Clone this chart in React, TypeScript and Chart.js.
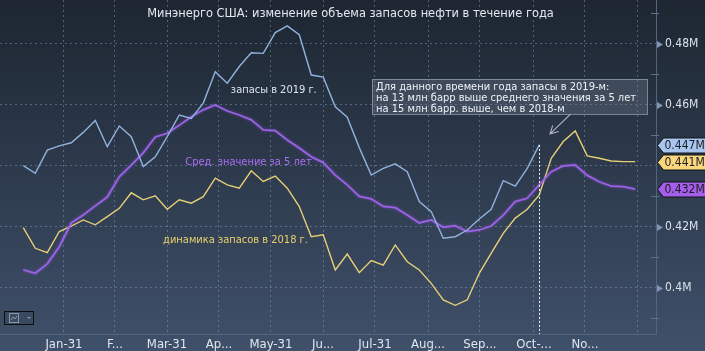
import React, { useEffect, useRef } from "react";
import { Chart, registerables } from "chart.js";

Chart.register(...registerables);

// Weekly stocks (as displayed, "M" units), week index 0 = first week of January
const STOCKS_2019 = [
  0.4401, 0.4376, 0.4452, 0.4466, 0.4476, 0.451, 0.4549, 0.4463, 0.4531, 0.4496,
  0.4398, 0.443, 0.4496, 0.4567, 0.4556, 0.4606, 0.4709, 0.4671, 0.4726, 0.4771,
  0.4769, 0.4837, 0.4859, 0.483, 0.4698, 0.4691, 0.4594, 0.456, 0.446, 0.437,
  0.4392, 0.4407, 0.4381, 0.4283, 0.425, 0.4163, 0.4168, 0.419, 0.4226, 0.4258,
  0.4352, 0.4334, 0.4392, 0.4469,
];

const AVG_5Y = [
  0.4059, 0.4048, 0.4079, 0.4135, 0.4213, 0.4239, 0.4269, 0.4298, 0.4364, 0.4403,
  0.4443, 0.4495, 0.4507, 0.4533, 0.4561, 0.4584, 0.46, 0.458, 0.4567, 0.4551,
  0.4518, 0.4516, 0.4485, 0.4459, 0.443, 0.4411, 0.437, 0.4338, 0.43, 0.4292,
  0.4267, 0.4263, 0.4239, 0.4213, 0.4223, 0.4199, 0.4204, 0.4185, 0.419, 0.4203,
  0.4239, 0.4283, 0.4294, 0.4338, 0.4381, 0.44, 0.4403, 0.4369, 0.4348, 0.4334,
  0.4332, 0.4324,
];

const STOCKS_2018 = [
  0.4198, 0.413, 0.4116, 0.4185, 0.4203, 0.4223, 0.4207, 0.4234, 0.4261, 0.4312,
  0.4289, 0.4302, 0.4258, 0.4289, 0.4278, 0.4299, 0.436, 0.4338, 0.4327, 0.4384,
  0.4349, 0.4367, 0.4327, 0.4267, 0.4168, 0.4174, 0.4059, 0.4111, 0.405, 0.409,
  0.4075, 0.4141, 0.4086, 0.4059, 0.4015, 0.3961, 0.3943, 0.3961, 0.4048, 0.4114,
  0.4179, 0.4229, 0.4258, 0.4305, 0.4425, 0.448, 0.4515, 0.4433, 0.4425, 0.4416,
  0.4414, 0.4414,
];

// X axis ticks (in week-index units) and their labels
const X_TICKS = [3.39, 7.64, 11.98, 16.31, 20.64, 24.98, 29.31, 33.73, 38.06, 42.56, 46.81, 51.22];
const X_TICK_LABELS = ["Jan-31", "F...", "Mar-31", "Ap...", "May-31", "Ju...", "Jul-31", "Aug...", "Sep...", "Oct-...", "No...", ""];

const Y_TICKS = [0.39, 0.4, 0.41, 0.42, 0.43, 0.44, 0.45, 0.46, 0.47, 0.48, 0.49];
const Y_GRID = [0.4, 0.42, 0.44, 0.46, 0.48];
const Y_LABELED = [0.4, 0.42, 0.46, 0.48];
const Y_LABEL_TEXT = ["0.4M", "0.42M", "0.46M", "0.48M"];

const TITLE = "Минэнерго США: изменение объема запасов нефти в течение года";
const LABEL_2019 = "запасы в 2019 г.";
const LABEL_AVG = "Сред. значение за 5 лет";
const LABEL_2018 = "динамика запасов в 2018 г.";
const NOTE_LINES = [
  "Для данного времени года запасы в 2019-м:",
  "на 13 млн барр выше среднего значения за 5 лет",
  "на 15 млн барр. выше, чем в 2018-м",
];

const FONT = '"DejaVu Sans Condensed", "DejaVu Sans", sans-serif';

const C2019 = "#90b2dc";
const CAVG = "#9b62e6";
const C2018 = "#e6d077";

const near = (a: number, b: number) => Math.abs(a - b) < 1e-6;

const decor = {
  id: "decor",
  beforeDraw(chart: any) {
    const { ctx, width, height } = chart;
    const g = ctx.createLinearGradient(0, 0, 0, height);
    g.addColorStop(0, "#1d2631");
    g.addColorStop(1, "#3f506a");
    ctx.save();
    ctx.fillStyle = g;
    ctx.fillRect(0, 0, width, height);
    ctx.restore();
  },
  beforeDatasetDraw(chart: any, args: any) {
    if (args.index === 1) {
      chart.ctx.save();
      chart.ctx.shadowColor = "rgba(150,90,235,0.6)";
      chart.ctx.shadowBlur = 3;
    }
  },
  afterDatasetDraw(chart: any, args: any) {
    if (args.index === 1) chart.ctx.restore();
  },
  afterDatasetsDraw(chart: any) {
    const { ctx } = chart;
    const xs = chart.scales.x;
    const ys = chart.scales.y;
    const area = chart.chartArea;
    ctx.save();

    // dotted line from last 2019 point to axis
    const li = STOCKS_2019.length - 1;
    const lx = Math.round(xs.getPixelForValue(li)) + 0.5;
    ctx.strokeStyle = "#f2f4f8";
    ctx.lineWidth = 1;
    ctx.setLineDash([2, 2]);
    ctx.beginPath();
    ctx.moveTo(lx, ys.getPixelForValue(STOCKS_2019[li]));
    ctx.lineTo(lx, area.bottom);
    ctx.stroke();
    ctx.setLineDash([]);

    // series labels
    ctx.font = `11px ${FONT}`;
    ctx.textBaseline = "middle";
    ctx.textAlign = "left";
    ctx.fillStyle = "#dbe4f3";
    ctx.fillText(LABEL_2019, xs.getPixelForValue(17.3), ys.getPixelForValue(0.4649));
    ctx.fillStyle = "#ad6cf5";
    ctx.fillText(LABEL_AVG, xs.getPixelForValue(13.5), ys.getPixelForValue(0.4413));
    ctx.fillStyle = "#e6d06c";
    ctx.fillText(LABEL_2018, xs.getPixelForValue(11.65), ys.getPixelForValue(0.4157));

    // note box
    const bx0 = xs.getPixelForValue(29.06);
    const bx1 = xs.getPixelForValue(51.98);
    const by0 = ys.getPixelForValue(0.46852);
    const by1 = ys.getPixelForValue(0.45705);
    ctx.fillStyle = "rgba(112,124,142,0.35)";
    ctx.fillRect(Math.round(bx0), Math.round(by0), Math.round(bx1 - bx0), Math.round(by1 - by0));
    ctx.strokeStyle = "rgba(150,160,176,0.75)";
    ctx.strokeRect(Math.round(bx0) + 0.5, Math.round(by0) + 0.5, Math.round(bx1 - bx0), Math.round(by1 - by0));
    ctx.fillStyle = "#eef2f8";
    ctx.font = `11px ${FONT}`;
    NOTE_LINES.forEach((t, k) => {
      ctx.fillText(t, bx0 + 4, by0 + 8.5 + k * 11);
    });

    // arrow
    const ax0 = xs.getPixelForValue(45.6);
    const ay0 = ys.getPixelForValue(0.457);
    const ax1 = xs.getPixelForValue(43.9);
    const ay1 = ys.getPixelForValue(0.4505);
    ctx.strokeStyle = "#a9b1c2";
    ctx.lineWidth = 1.2;
    ctx.beginPath();
    ctx.moveTo(ax0, ay0);
    ctx.lineTo(ax1, ay1);
    const ang = Math.atan2(ay0 - ay1, ax0 - ax1);
    const hl = 9;
    ctx.moveTo(ax1 + hl * Math.cos(ang - 0.5), ay1 + hl * Math.sin(ang - 0.5));
    ctx.lineTo(ax1, ay1);
    ctx.lineTo(ax1 + hl * Math.cos(ang + 0.5), ay1 + hl * Math.sin(ang + 0.5));
    ctx.stroke();
    ctx.restore();
  },
  afterDraw(chart: any) {
    const { ctx, width } = chart;
    const ys = chart.scales.y;
    const area = chart.chartArea;
    ctx.save();

    // title
    ctx.font = `12.7px ${FONT}`;
    ctx.fillStyle = "#e3e8f0";
    ctx.textAlign = "center";
    ctx.textBaseline = "middle";
    ctx.fillText(TITLE, width / 2 - 2, 14);

    // y axis pointers and minor ticks
    Y_TICKS.forEach((v) => {
      const y = Math.round(ys.getPixelForValue(v)) + 0.5;
      if (Y_LABELED.some((l) => near(l, v))) {
        ctx.fillStyle = "#8397b4";
        ctx.beginPath();
        ctx.moveTo(area.right + 1, y - 3.5);
        ctx.lineTo(area.right + 7, y);
        ctx.lineTo(area.right + 1, y + 3.5);
        ctx.closePath();
        ctx.fill();
      } else if (!Y_GRID.some((l) => near(l, v))) {
        ctx.strokeStyle = "#5d7090";
        ctx.lineWidth = 1;
        ctx.beginPath();
        ctx.moveTo(area.right - 5, y);
        ctx.lineTo(area.right + 3, y);
        ctx.stroke();
      }
    });

    // last value badges
    const badges = [
      { v: STOCKS_2019[STOCKS_2019.length - 1], fill: "#a9c6ef" },
      { v: STOCKS_2018[STOCKS_2018.length - 1], fill: "#fad77c" },
      { v: AVG_5Y[AVG_5Y.length - 1], fill: "#a45ee9" },
    ];
    ctx.font = `12px ${FONT}`;
    ctx.textAlign = "left";
    badges.forEach((b) => {
      const yc = Math.round(ys.getPixelForValue(b.v)) + 0.5;
      const x0 = area.right + 1.5;
      const h = 7.5;
      ctx.beginPath();
      ctx.moveTo(x0, yc);
      ctx.lineTo(x0 + 6, yc - h);
      ctx.lineTo(width + 2, yc - h);
      ctx.lineTo(width + 2, yc + h);
      ctx.lineTo(x0 + 6, yc + h);
      ctx.closePath();
      ctx.fillStyle = b.fill;
      ctx.fill();
      ctx.strokeStyle = "#10141a";
      ctx.lineWidth = 1;
      ctx.stroke();
      ctx.fillStyle = "#1a1c24";
      ctx.fillText(`${b.v.toFixed(3)}M`, x0 + 7, yc + 0.5);
    });

    // small chart-type widget bottom-left
    ctx.fillStyle = "#3a495e";
    ctx.fillRect(4, 311, 30, 14);
    ctx.strokeStyle = "#0b0e12";
    ctx.lineWidth = 1;
    ctx.strokeRect(4.5, 311.5, 29, 13);
    ctx.strokeStyle = "#8a98aa";
    ctx.strokeRect(9.5, 313.5, 9, 9);
    ctx.beginPath();
    ctx.moveTo(11, 320);
    ctx.lineTo(13, 317);
    ctx.lineTo(15, 319);
    ctx.lineTo(17, 316);
    ctx.stroke();
    ctx.fillStyle = "#8a98aa";
    ctx.beginPath();
    ctx.moveTo(27, 317);
    ctx.lineTo(31, 317);
    ctx.lineTo(29, 319);
    ctx.closePath();
    ctx.fill();

    ctx.restore();
  },
};

export default function App() {
  const ref = useRef<HTMLCanvasElement | null>(null);

  useEffect(() => {
    document.body.style.margin = "0";
    document.body.style.overflow = "hidden";
    const canvas = ref.current;
    if (!canvas) return;

    const gridColor = "rgba(140,165,200,0.45)";

    const chart = new Chart(canvas, {
      type: "line",
      data: {
        datasets: [
          {
            label: LABEL_2019,
            data: STOCKS_2019.map((v, i) => ({ x: i, y: v })),
            borderColor: C2019,
            borderWidth: 1.4,
            pointRadius: 0,
            tension: 0,
          },
          {
            label: LABEL_AVG,
            data: AVG_5Y.map((v, i) => ({ x: i, y: v })),
            borderColor: CAVG,
            borderWidth: 1.8,
            pointRadius: 0,
            tension: 0,
          },
          {
            label: LABEL_2018,
            data: STOCKS_2018.map((v, i) => ({ x: i, y: v })),
            borderColor: C2018,
            borderWidth: 1.4,
            pointRadius: 0,
            tension: 0,
          },
        ],
      },
      options: {
        animation: false,
        responsive: false,
        maintainAspectRatio: false,
        devicePixelRatio: 1,
        layout: { padding: 0 },
        plugins: {
          legend: { display: false },
          tooltip: { enabled: false },
          title: { display: false },
        },
        scales: {
          x: {
            type: "linear",
            min: -1.94,
            max: 52.73,
            afterBuildTicks: (scale: any) => {
              scale.ticks = X_TICKS.map((v) => ({ value: v }));
            },
            afterFit: (scale: any) => {
              scale.height = 17;
              scale.paddingLeft = 0;
              scale.paddingRight = 0;
            },
            ticks: {
              autoSkip: false,
              maxRotation: 0,
              padding: 3,
              color: "#e0e6ef",
              font: { family: FONT, size: 13 },
              callback: (_v: any, i: number) => X_TICK_LABELS[i] ?? "",
            },
            grid: {
              color: gridColor,
              drawTicks: false,
              lineWidth: 1,
            },
            border: { display: true, color: "#52647e", dash: [2, 3] },
          },
          y: {
            type: "linear",
            position: "right",
            min: 0.3849,
            max: 0.4944,
            afterBuildTicks: (scale: any) => {
              scale.ticks = Y_TICKS.map((v) => ({ value: v }));
            },
            afterFit: (scale: any) => {
              scale.width = 49;
              scale.paddingTop = 0;
              scale.paddingBottom = 0;
            },
            ticks: {
              autoSkip: false,
              padding: 9,
              color: "#dbe2ec",
              font: { family: FONT, size: 12 },
              callback: (v: any) => {
                const k = Y_LABELED.findIndex((l) => near(l, Number(v)));
                return k >= 0 ? Y_LABEL_TEXT[k] : "";
              },
            },
            grid: {
              color: (c: any) =>
                c.tick && Y_GRID.some((l) => near(l, c.tick.value)) ? gridColor : "transparent",
              drawTicks: false,
              lineWidth: 1,
            },
            border: { display: true, color: "#52647e", dash: [2, 3] },
          },
        },
      },
      plugins: [decor],
    } as any);

    return () => chart.destroy();
  }, []);

  return <canvas ref={ref} width={705} height={351} style={{ display: "block", width: 705, height: 351 }} />;
}
